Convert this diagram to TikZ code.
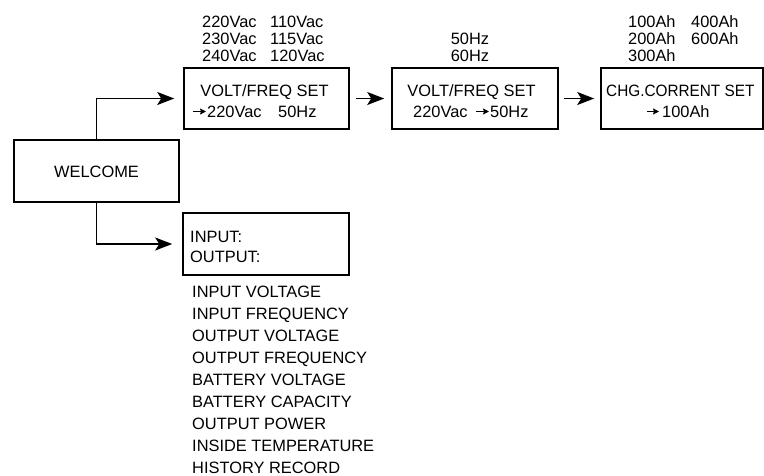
\documentclass[tikz,border=0pt]{standalone}
\usepackage{fontspec}
\setmainfont{Liberation Sans}
\usetikzlibrary{arrows.meta}

\tikzset{
  panel/.style={draw,line width=1.6pt,inner sep=0pt,minimum width=165pt,minimum height=61pt},
  txt/.style={anchor=base west,inner sep=0pt,font=\fontsize{16.4}{20}\selectfont},
  ctxt/.style={txt,anchor=base},
  flow/.style={line width=1.6pt,-{Stealth[length=17pt,width=13pt,inset=4pt]}},
  pick/.style={line width=1.2pt,-{Stealth[length=6pt,width=6pt,inset=1pt]}}
}

\begin{document}
\begin{tikzpicture}[x=1pt,y=-1pt]
\useasboundingbox (0,0) rectangle (764,475);

% boxes
\node[panel,minimum height=62pt] (welcome) at (96.5,171) {};
\node[panel] (set1) at (266.5,98.5) {};
\node[panel,minimum width=166pt] (set2) at (475,98.5) {};
\node[panel,minimum width=162pt] (set3) at (682,98.5) {};
\node[panel,minimum width=166pt,minimum height=62pt] (info) at (266,244) {};

\node[ctxt] (wtxt) at (96.5,177) {WELCOME};

% voltage choices
\foreach \a/\b [count=\i] in {220/110,230/115,240/120}{
  \node[txt] (va\i) at (202,10+17*\i) {\a Vac};
  \node[txt] (vb\i) at (270,10+17*\i) {\b Vac};
}
\node[ctxt] (s1top) at (264.5,96) {VOLT/FREQ SET};
\node[txt] (s1v) at (207,117) {220Vac};
\node[txt] (s1hz) at (278,117) {50Hz};
\draw[pick] ([xshift=-14pt,yshift=5.5pt]s1v.base west) -- ++(13,0);

% frequency choices
\node[ctxt] (f50) at (470,44) {50Hz};
\node[ctxt] (f60) at (470,61) {60Hz};
\node[ctxt] (s2top) at (471.5,96) {VOLT/FREQ SET};
\node[txt] (s2v) at (413,117) {220Vac};
\node[txt] (s2hz) at (490,117) {50Hz};
\draw[pick] ([xshift=-14pt,yshift=5.5pt]s2hz.base west) -- ++(13,0);

% charge current choices
\node[txt] (a100) at (628,27) {100Ah};
\node[txt] (a400) at (691,27) {400Ah};
\node[txt] (a200) at (628,44) {200Ah};
\node[txt] (a600) at (691,44) {600Ah};
\node[txt] (a300) at (628,61) {300Ah};
\node[txt] (s3top) at (606,96) {\scalebox{0.935}[1]{CHG.CORRENT SET}};
\node[txt] (s3a) at (662,117) {100Ah};
\draw[pick] ([xshift=-15pt,yshift=5.5pt]s3a.base west) -- ++(12,0);

% display pages
\node[txt] (itop) at (190,242) {INPUT:};
\node[txt] (ibot) at (190,262) {OUTPUT:};
\foreach \t [count=\i] in {INPUT VOLTAGE,INPUT FREQUENCY,OUTPUT VOLTAGE,
    OUTPUT FREQUENCY,BATTERY VOLTAGE,BATTERY CAPACITY,OUTPUT POWER,
    INSIDE TEMPERATURE,HISTORY RECORD}
  \node[txt] (page\i) at (192,275+22*\i) {\t};

\draw[flow,shorten >=9pt] (welcome.north) |- (set1.west);
\draw[flow,shorten >=10pt] (welcome.south) |- (info.west);
\draw[flow,shorten <=6pt,shorten >=7pt] (set1.east) -- (set2.west);
\draw[flow,shorten <=5pt,shorten >=6pt] (set2.east) -- (set3.west);
\end{tikzpicture}
\end{document}
